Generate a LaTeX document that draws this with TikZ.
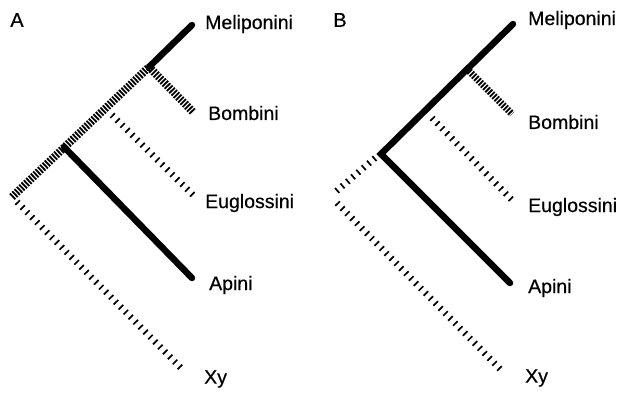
\documentclass[tikz,border=0pt]{standalone}
\usepackage{fontspec}
\setmainfont[FakeBold=0.5]{Liberation Sans}
\begin{document}
\begin{tikzpicture}[x=1pt,y=-1pt,
  solidbr/.style={line width=6.5pt,line cap=round},
  densebr/.style={line width=8pt,line cap=butt,dash pattern=on 1.8pt off 1.4pt},
  sparsebr/.style={line width=6.5pt,line cap=butt,dash pattern=on 1.7pt off 5.3pt},
  taxon/.style={anchor=west,inner sep=0pt,font=\fontsize{19.5}{22}\selectfont},
  panel/.style={inner sep=0pt,font=\fontsize{20}{22}\selectfont}]
\useasboundingbox (0,0) rectangle (627,394);

% ---------- tree A ----------
\node[panel] (labA) at (17,20) {A};
\coordinate (rootA) at (12,197);
\coordinate (mbA) at (149,67);
\coordinate (apA) at (64,147);
\coordinate (eugA0) at (112,115);
\coordinate (xyA0) at (17,202);
\coordinate (melA) at (192,25);
\coordinate (bomA) at (193,112);
\coordinate (eugA) at (193,195);
\coordinate (apiA) at (192,278);
\coordinate (xyA) at (183,370);
\node[taxon] (tMelA) at (205,24) {Meliponini};
\node[taxon] (tBomA) at (208,113) {Bombini};
\node[taxon] (tEugA) at (205,203) {Euglossini};
\node[taxon] (tApiA) at (209,285) {Apini};
\node[taxon] (tXyA) at (204,379) {Xy};

\draw[densebr] (rootA) -- (mbA);
\draw[solidbr] (mbA) -- (melA);
\draw[densebr] (mbA) -- (bomA);
\draw[solidbr] (apA) -- (apiA);
\draw[sparsebr] (eugA0) -- (eugA);
\draw[sparsebr] (xyA0) -- (xyA);

% ---------- tree B ----------
\node[panel] (labB) at (340,20) {B};
\coordinate (rootB) at (381,154);
\coordinate (mbB) at (469,71);
\coordinate (melB) at (513,24);
\coordinate (bomB) at (512,114);
\coordinate (eugB0) at (432,118);
\coordinate (eugB) at (512,200);
\coordinate (apiB) at (510,283);
\coordinate (stubB0) at (375,158);
\coordinate (stubB) at (333,194);
\coordinate (xyB0) at (337,203);
\coordinate (xyB) at (503,372);
\node[taxon] (tMelB) at (528,20) {Meliponini};
\node[taxon] (tBomB) at (528,122) {Bombini};
\node[taxon] (tEugB) at (528,207) {Euglossini};
\node[taxon] (tApiB) at (528,288) {Apini};
\node[taxon] (tXyB) at (525,378) {Xy};

\draw[solidbr,line join=miter] (melB) -- (rootB) -- (apiB);
\draw[densebr,line width=7pt] (mbB) -- (bomB);
\draw[sparsebr] (eugB0) -- (eugB);
\draw[sparsebr] (stubB0) -- (stubB);
\draw[sparsebr] (xyB0) -- (xyB);
\end{tikzpicture}
\end{document}
